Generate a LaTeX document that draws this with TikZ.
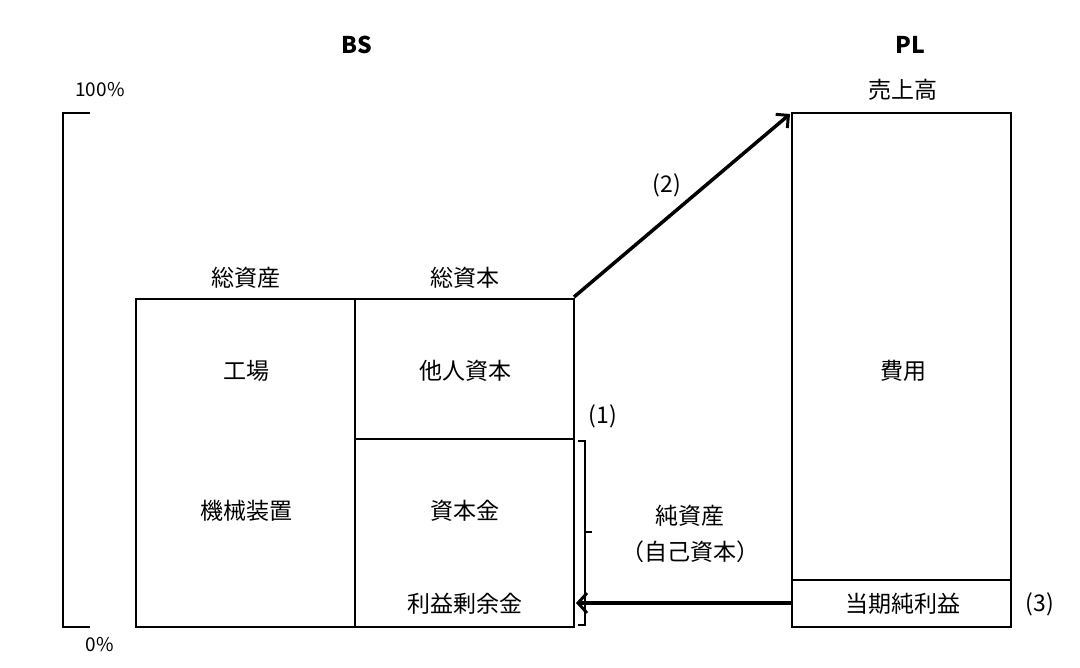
\documentclass[tikz,border=0pt]{standalone}
\usepackage{fontspec}
\setmainfont{Noto Sans CJK JP}
\usetikzlibrary{arrows.meta}
\begin{document}
\begin{tikzpicture}[x=1pt,y=-1pt,
  box/.style={draw,line width=1.8pt},
  lbl/.style={inner sep=0pt,font=\fontsize{23}{27}\selectfont},
  hd/.style={inner sep=0pt,font=\fontsize{23}{27}\selectfont\bfseries},
  sm/.style={inner sep=0pt,font=\fontsize{19}{22}\selectfont}]
\useasboundingbox (0,0) rectangle (1080,668);
\draw[box] (136,299) rectangle (355,627);
\draw[box] (355,299) rectangle (574,627);
\draw[box] (355,439) -- (574,439);
\draw[box] (792,113) rectangle (1011,627);
\draw[box] (792,580) -- (1011,580);
\draw[line width=1.8pt] (90,113) -- (63,113) -- (63,627) -- (90,627);
\node[sm] (p100) at (100,90) {100\%};
\node[sm] (p0) at (100,645) {0\%};
\node[hd] (bs) at (357,45) {BS};
\node[hd] (pl) at (910,45) {PL};
\node[lbl] (sa) at (246,278) {総資産};
\node[lbl] (sh) at (465,278) {総資本};
\node[lbl] (k) at (246,371) {工場};
\node[lbl] (m) at (246,511) {機械装置};
\node[lbl] (t) at (465,371) {他人資本};
\node[lbl] (sk) at (465,511) {資本金};
\node[lbl] (r) at (465,604) {利益剰余金};
\node[lbl] (n1) at (603,416) {(1)};
\node[lbl] (j1) at (690,516) {純資産};
\node[lbl] (j2) at (690,552) {（自己資本）};
\node[lbl] (u) at (903,90) {売上高};
\node[lbl] (h) at (903,371) {費用};
\node[lbl] (tk) at (903,604) {当期純利益};
\node[lbl] (n3) at (1040,604) {(3)};
\node[lbl] (n2) at (667,185) {(2)};
\coordinate (a2s) at (574,297);
\coordinate (a2e) at (790,114);
\coordinate (a3s) at (792,603);
\coordinate (a3e) at (576,603);
\draw[line width=3.5pt,-{Straight Barb[length=9pt,width=18pt,line width=3pt]}] (a2s) -- (a2e);
\draw[line width=4.5pt,-{Straight Barb[length=9pt,width=20pt,line width=3pt]}] (a3s) -- (a3e);
\draw[line width=1.2pt] (578,441) -- (585,441) -- (585,532) -- (592,532) (585,532) -- (585,625) -- (578,625);
\end{tikzpicture}
\end{document}
